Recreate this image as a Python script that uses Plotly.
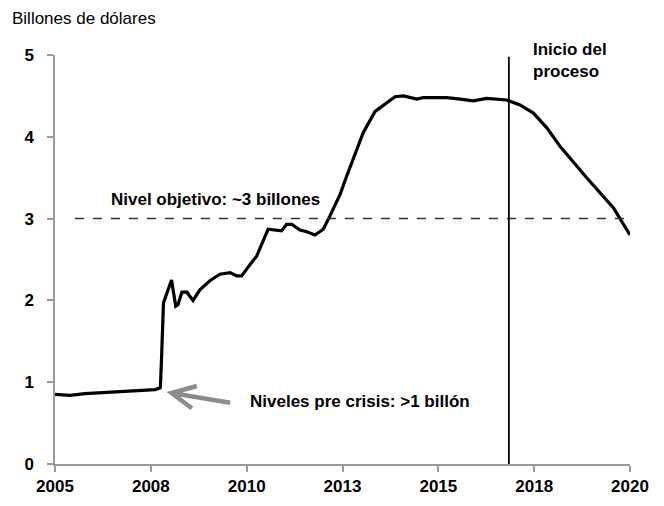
import plotly.graph_objects as go

# ---- data ----
years = [2005.00, 2005.39, 2005.78, 2006.17, 2006.57, 2006.96, 2007.35, 2007.61, 2007.74,
         2007.75, 2007.78, 2007.83, 2008.04, 2008.15, 2008.21, 2008.31, 2008.44, 2008.60,
         2008.78, 2009.04, 2009.30, 2009.57, 2009.74, 2009.87, 2010.09, 2010.26, 2010.56,
         2010.91, 2011.04, 2011.18, 2011.39, 2011.57, 2011.78, 2012.00, 2012.17, 2012.44,
         2012.61, 2012.78, 2013.04, 2013.35, 2013.65, 2013.87, 2014.09, 2014.44, 2014.61,
         2014.96, 2015.22, 2015.57, 2015.91, 2016.26, 2016.78, 2017.13, 2017.48, 2017.83,
         2018.18, 2018.87, 2019.57, 2020.00]
balance = [0.85, 0.84, 0.86, 0.87, 0.88, 0.89, 0.90, 0.91, 0.93,
           0.95, 1.30, 1.97, 2.25, 1.93, 1.95, 2.10, 2.10, 2.00,
           2.13, 2.24, 2.32, 2.34, 2.30, 2.30, 2.44, 2.54, 2.87,
           2.85, 2.93, 2.93, 2.86, 2.84, 2.80, 2.87, 3.03, 3.30,
           3.52, 3.72, 4.05, 4.31, 4.41, 4.49, 4.50, 4.46, 4.48,
           4.48, 4.48, 4.46, 4.44, 4.47, 4.45, 4.39, 4.29, 4.11,
           3.88, 3.50, 3.13, 2.80]

tick_vals = [2005, 2007.5, 2010, 2012.5, 2015, 2017.5, 2020]
tick_text = ["2005", "2008", "2010", "2013", "2015", "2018", "2020"]
y_ticks = [0, 1, 2, 3, 4, 5]

target_level = 3.0
target_start = 2005.52
process_start = 2016.84

FONT = "Liberation Sans, Arial, sans-serif"
AXIS_GREY = "#9a9a9a"

fig = go.Figure()
fig.add_trace(go.Scatter(x=years, y=balance, mode="lines",
                         line=dict(color="black", width=3.2),
                         showlegend=False, hoverinfo="skip"))

# target dashed line
fig.add_shape(type="line", x0=target_start, x1=2020, y0=target_level, y1=target_level,
              xref="x", yref="y", line=dict(color="#333333", width=1.5, dash="dash"))
# vertical line: start of the process
fig.add_shape(type="line", x0=process_start, x1=process_start, y0=0, y1=4.98,
              xref="x", yref="y", line=dict(color="black", width=1.8))
# grey chevron arrow
fig.add_shape(type="path",
              path="M 2009.57,0.749 L 2008.04,0.868 M 2008.70,0.954 L 2008.04,0.868 L 2008.57,0.681",
              xref="x", yref="y", line=dict(color="#8c8c8c", width=4.5))

ann_font = dict(family=FONT, size=17, color="black", weight="bold")
fig.add_annotation(x=2006.41, y=3.23, xref="x", yref="y", text="Nivel objetivo: ~3 billones",
                   showarrow=False, xanchor="left", yanchor="middle", font=ann_font)
fig.add_annotation(x=2010.04, y=0.76, xref="x", yref="y", text="Niveles pre crisis: >1 billón",
                   showarrow=False, xanchor="left", yanchor="middle", font=ann_font)
fig.add_annotation(x=2017.41, y=4.93, xref="x", yref="y", text="Inicio del<br>proceso",
                   showarrow=False, xanchor="left", yanchor="middle", align="left",
                   font=ann_font)
fig.add_annotation(x=-0.078, y=1.118, xref="paper", yref="paper", text="Billones de dólares",
                   showarrow=False, xanchor="left", yanchor="top",
                   font=dict(family=FONT, size=17, color="black"))

fig.update_xaxes(range=[2005, 2020], tickvals=tick_vals, ticktext=tick_text,
                 showgrid=False, zeroline=False, showline=True, linecolor=AXIS_GREY,
                 linewidth=1.5, ticks="outside", ticklen=6, tickcolor=AXIS_GREY, tickwidth=1.5,
                 automargin=False,
                 tickfont=dict(family=FONT, size=17, color="black", weight="bold"))
fig.update_yaxes(range=[0, 5], tickvals=y_ticks, showgrid=False, zeroline=False,
                 showline=True, linecolor=AXIS_GREY, linewidth=1.5, ticks="outside",
                 ticklen=6, tickcolor=AXIS_GREY, tickwidth=1.5, ticklabelstandoff=10,
                 automargin=False,
                 tickfont=dict(family=FONT, size=17, color="black", weight="bold"))

fig.update_layout(width=664, height=506, margin=dict(l=47, r=42, t=47, b=50),
                  plot_bgcolor="white", paper_bgcolor="white",
                  font=dict(family=FONT))

fig.write_html("out.html")
